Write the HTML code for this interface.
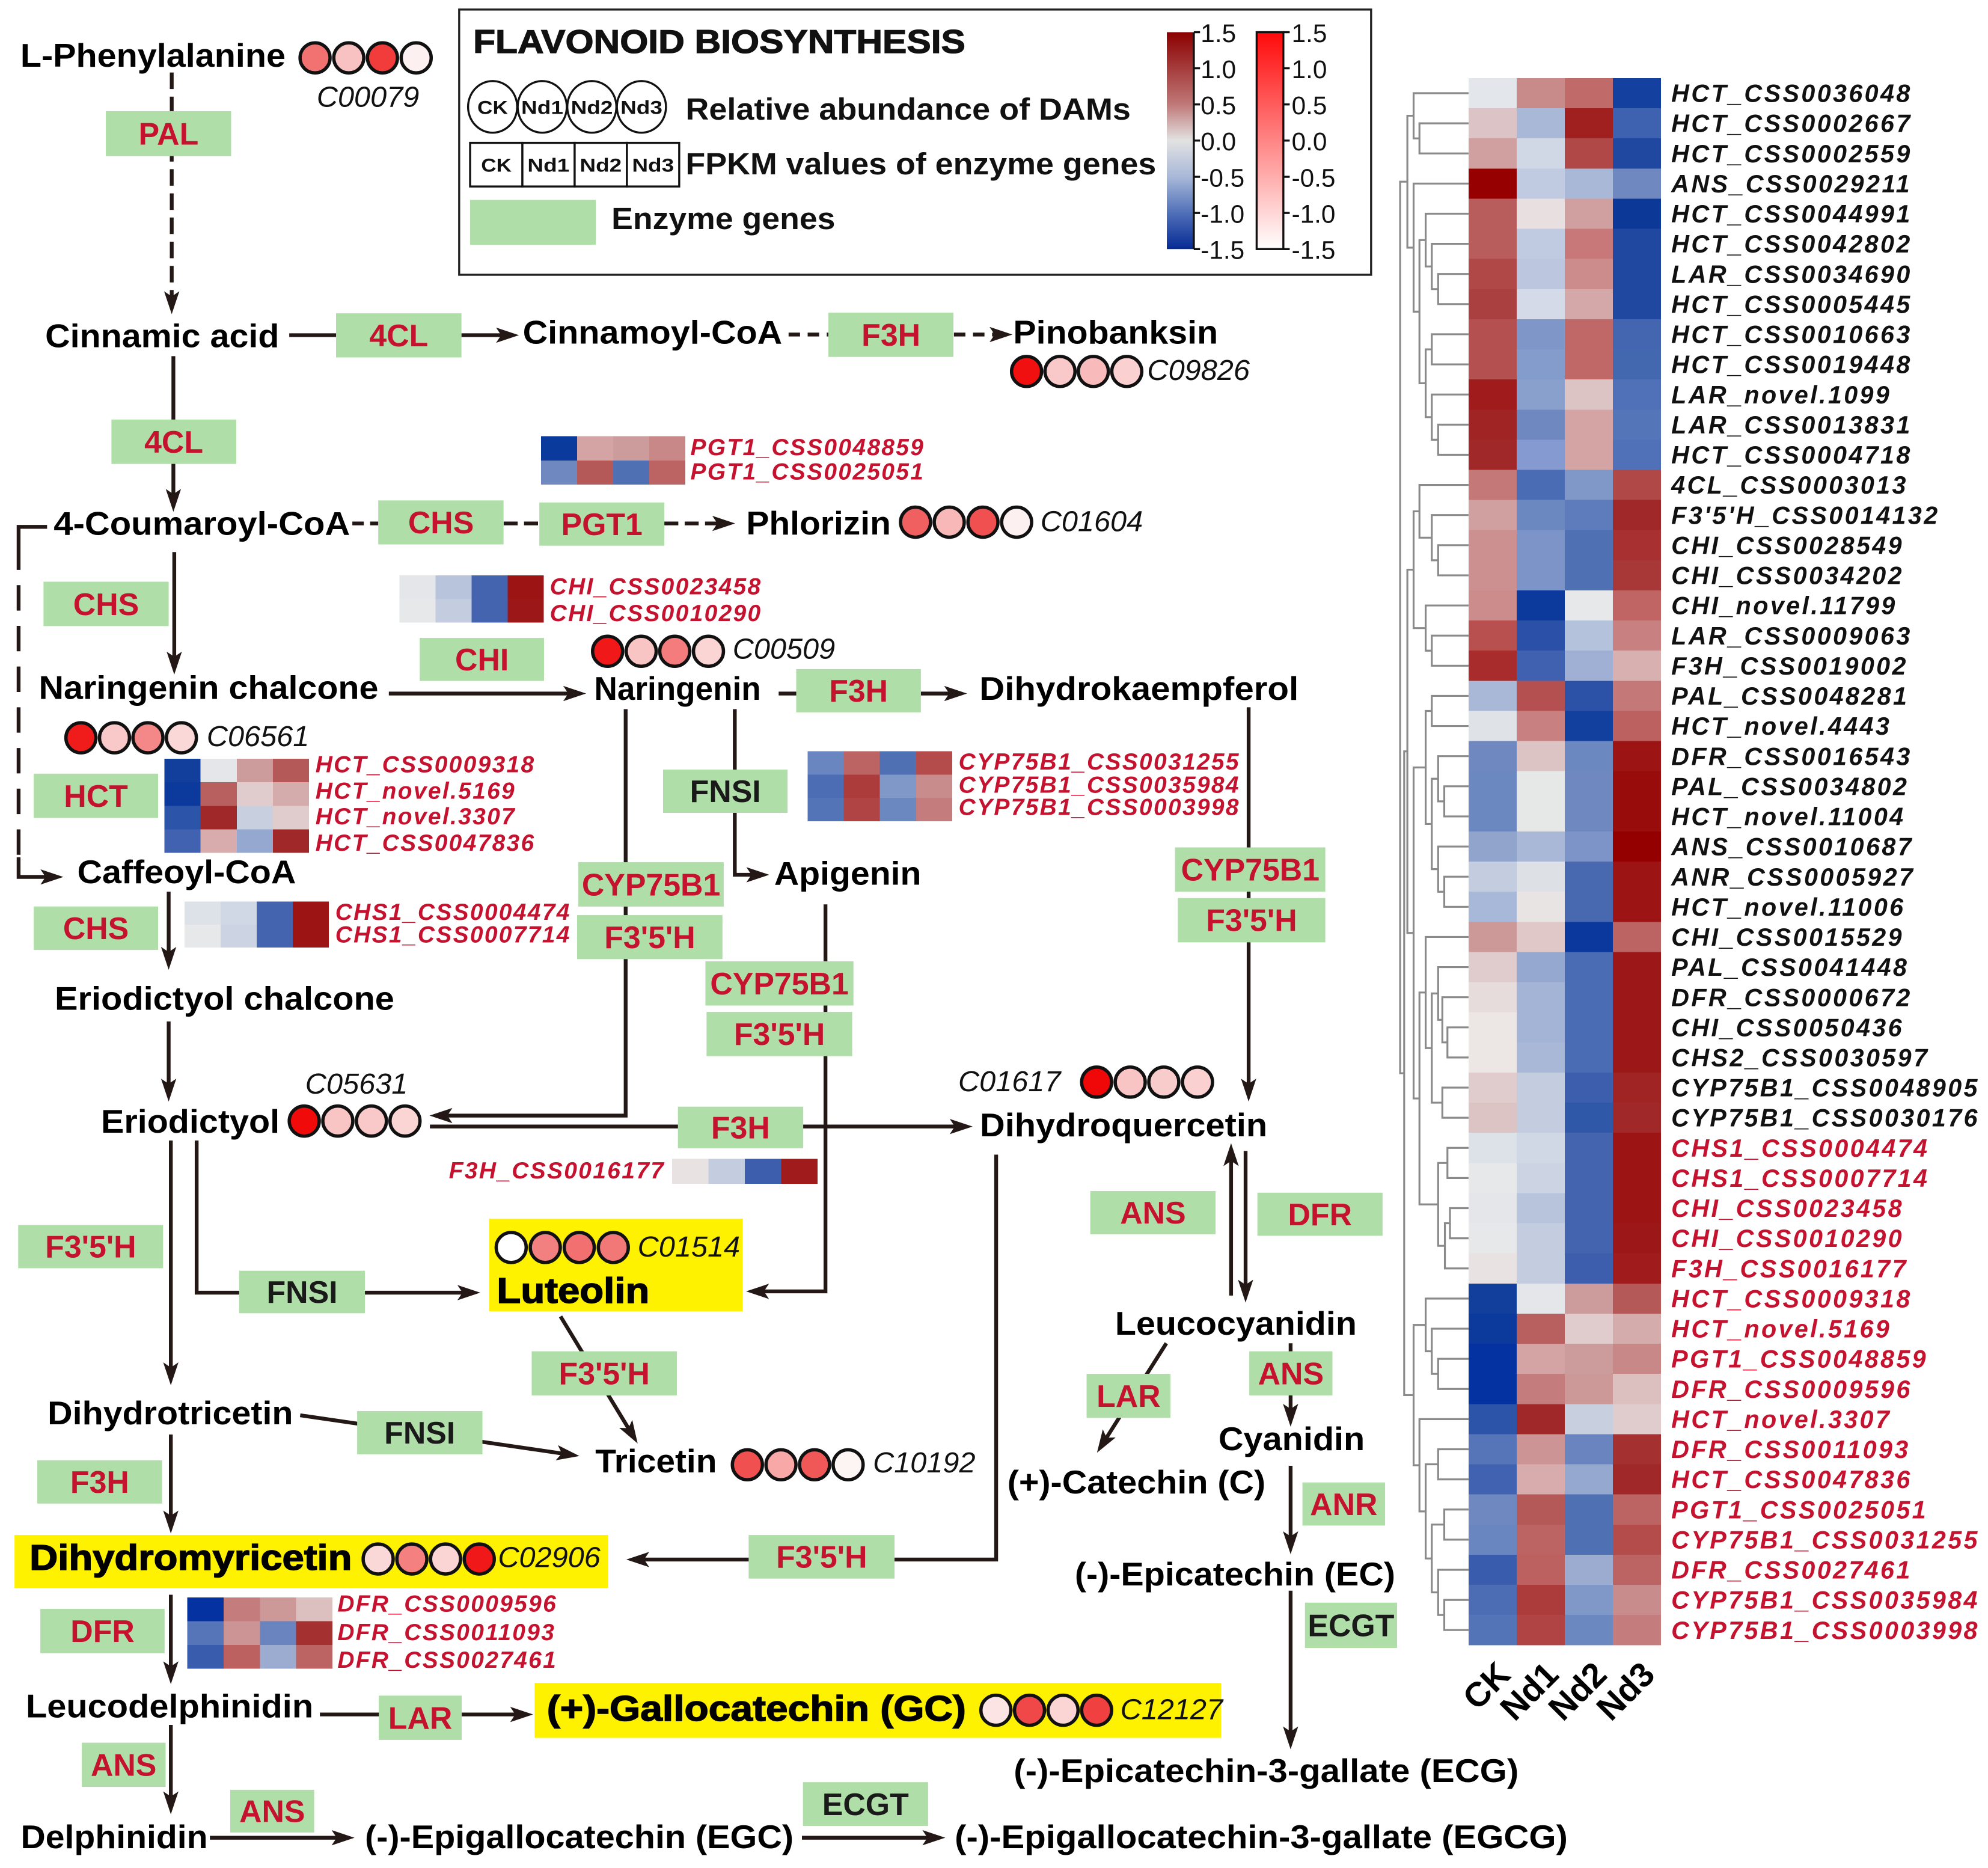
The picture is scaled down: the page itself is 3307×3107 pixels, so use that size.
<!DOCTYPE html>
<html><head><meta charset="utf-8">
<style>
html,body{margin:0;padding:0;background:#fff;}
svg{display:block;}
text{font-family:"Liberation Sans",Arial,sans-serif;}
.c{font-weight:bold;font-size:26px;fill:#000;}
.hl{font-weight:bold;font-size:28px;fill:#000;stroke:#000;stroke-width:0.7px;}
.e{font-weight:bold;font-size:24.5px;fill:#c4122f;text-anchor:middle;}
.ek{fill:#1a1a1a;}
.id{font-style:italic;font-size:23px;fill:#111;}
.g{font-style:italic;font-weight:bold;font-size:18.4px;fill:#c4122f;letter-spacing:1.1px;}
.h{font-style:italic;font-weight:bold;font-size:19.5px;fill:#111;letter-spacing:1.6px;}
.hr{fill:#c4122f;}
.ln{stroke:#231815;stroke-width:3;fill:none;}
.bx{fill:#b0dea8;}
.cb{font-size:20px;fill:#111;}
.lg{font-weight:bold;font-size:24px;fill:#111;}
.sm{font-weight:bold;font-size:15px;fill:#111;text-anchor:middle;}
.cl{font-weight:bold;font-size:27px;fill:#000;text-anchor:end;}
.dn{stroke:#8a8a8a;stroke-width:1.5;fill:none;}
.ci circle{stroke:#111;stroke-width:2.6;}
</style></head>
<body>
<svg xmlns="http://www.w3.org/2000/svg" width="3307" height="3107" viewBox="0 0 1563 1468.5">
<defs>
<marker id="ah" viewBox="0 0 18 12" refX="6" refY="6" markerWidth="18" markerHeight="12" markerUnits="userSpaceOnUse" orient="auto"><path d="M0,0 L18,6 L0,12 L4,6 Z" fill="#231815"/></marker>
<linearGradient id="g1" x1="0" y1="0" x2="0" y2="1">
<stop offset="0" stop-color="#8b0000"/><stop offset="0.333" stop-color="#c07878"/><stop offset="0.5" stop-color="#e2e2e2"/><stop offset="0.667" stop-color="#a8b8d8"/><stop offset="0.833" stop-color="#5070b8"/><stop offset="1" stop-color="#062a94"/>
</linearGradient>
<linearGradient id="g2" x1="0" y1="0" x2="0" y2="1">
<stop offset="0" stop-color="#ff0a0a"/><stop offset="1" stop-color="#ffffff"/>
</linearGradient>
</defs>
<rect x="0" y="0" width="1563" height="1468.5" fill="#fff"/>

<!-- ===== LEGEND ===== -->
<rect x="361" y="7.5" width="717" height="208.5" fill="none" stroke="#222" stroke-width="1.6"/>
<text x="372" y="41.5" class="lg" style="font-size:26px;stroke:#111;stroke-width:0.6px" textLength="387" lengthAdjust="spacingAndGlyphs">FLAVONOID BIOSYNTHESIS</text>
<g fill="#fff" stroke="#111" stroke-width="1.6">
<ellipse cx="387.3" cy="84" rx="19.3" ry="20.3"/><ellipse cx="426.3" cy="84" rx="19.3" ry="20.3"/><ellipse cx="465.3" cy="84" rx="19.3" ry="20.3"/><ellipse cx="504.3" cy="84" rx="19.3" ry="20.3"/>
</g>
<text x="387.3" y="89.5" class="sm" textLength="24" lengthAdjust="spacingAndGlyphs">CK</text>
<text x="426.3" y="89.5" class="sm" textLength="33" lengthAdjust="spacingAndGlyphs">Nd1</text>
<text x="465.3" y="89.5" class="sm" textLength="33" lengthAdjust="spacingAndGlyphs">Nd2</text>
<text x="504.3" y="89.5" class="sm" textLength="33" lengthAdjust="spacingAndGlyphs">Nd3</text>
<text x="539" y="94" class="lg" textLength="350" lengthAdjust="spacingAndGlyphs">Relative abundance of DAMs</text>
<g fill="#fff" stroke="#111" stroke-width="1.6">
<rect x="369.6" y="112.3" width="41.1" height="34.3"/><rect x="410.7" y="112.3" width="41.1" height="34.3"/><rect x="451.8" y="112.3" width="41.1" height="34.3"/><rect x="492.9" y="112.3" width="41.1" height="34.3"/>
</g>
<text x="390.2" y="135" class="sm" textLength="24" lengthAdjust="spacingAndGlyphs">CK</text>
<text x="431.2" y="135" class="sm" textLength="33" lengthAdjust="spacingAndGlyphs">Nd1</text>
<text x="472.3" y="135" class="sm" textLength="33" lengthAdjust="spacingAndGlyphs">Nd2</text>
<text x="513.4" y="135" class="sm" textLength="33" lengthAdjust="spacingAndGlyphs">Nd3</text>
<text x="539" y="137" class="lg" textLength="370" lengthAdjust="spacingAndGlyphs">FPKM values of enzyme genes</text>
<rect x="369.6" y="157.2" width="98.8" height="35.2" class="bx"/>
<text x="480.7" y="180" class="lg" textLength="176" lengthAdjust="spacingAndGlyphs">Enzyme genes</text>

<!-- colorbar 1 -->
<rect x="917.4" y="25.3" width="21.2" height="170.5" fill="url(#g1)"/>
<path d="M938.6 25.3 V195.8 M938.6 25.3 H943.5 M938.6 53.7 H943.5 M938.6 82.1 H943.5 M938.6 110.5 H943.5 M938.6 139 H943.5 M938.6 167.4 H943.5 M938.6 195.8 H943.5" stroke="#111" stroke-width="1.6" fill="none"/>
<g class="cb">
<text x="944" y="33">1.5</text><text x="944" y="61.4">1.0</text><text x="944" y="89.8">0.5</text><text x="944" y="118.2">0.0</text><text x="944" y="146.7">-0.5</text><text x="944" y="175.1">-1.0</text><text x="944" y="203.5">-1.5</text>
</g>
<!-- colorbar 2 -->
<rect x="988" y="25.3" width="21" height="170.5" fill="url(#g2)" stroke="#111" stroke-width="1.6"/>
<path d="M1009 25.3 H1014 M1009 53.7 H1014 M1009 82.1 H1014 M1009 110.5 H1014 M1009 139 H1014 M1009 167.4 H1014 M1009 195.8 H1014" stroke="#111" stroke-width="1.6" fill="none"/>
<g class="cb">
<text x="1015.5" y="33">1.5</text><text x="1015.5" y="61.4">1.0</text><text x="1015.5" y="89.8">0.5</text><text x="1015.5" y="118.2">0.0</text><text x="1015.5" y="146.7">-0.5</text><text x="1015.5" y="175.1">-1.0</text><text x="1015.5" y="203.5">-1.5</text>
</g>

<!-- ===== CONNECTORS ===== -->
<g class="ln">
<path d="M135 57 V235" stroke-dasharray="13 6" marker-end="url(#ah)"/>
<path d="M227.4 263.5 H265"/>
<path d="M362.8 263.5 H396" marker-end="url(#ah)"/>
<path d="M620 263 H651.3" stroke-dasharray="9 6"/>
<path d="M750 263 H784" stroke-dasharray="9 6" marker-end="url(#ah)"/>
<path d="M136.3 280 V390.4" marker-end="url(#ah)"/>
<path d="M277 411.5 H297.4" stroke-dasharray="9 5"/>
<path d="M396 411.5 H424" stroke-dasharray="11 5"/>
<path d="M522.3 411.5 H566" stroke-dasharray="11 5" marker-end="url(#ah)"/>
<path d="M137 434 V518.3" marker-end="url(#ah)"/>
<path d="M37 414.2 H14.6 V428"/>
<path d="M14.6 428 V674" stroke-dasharray="20 12"/>
<path d="M14.6 674 V689.4 H37.8" marker-end="url(#ah)"/>
<path d="M305.7 545.2 H448.8" marker-end="url(#ah)"/>
<path d="M612.2 545.2 H626.5"/>
<path d="M724 545.2 H748.3" marker-end="url(#ah)"/>
<path d="M491.9 557.5 V877 H349.7" marker-end="url(#ah)"/>
<path d="M577.7 557.5 V687.7 H592.8" marker-end="url(#ah)"/>
<path d="M649 711 V1015.2 H598.6" marker-end="url(#ah)"/>
<path d="M981.7 556 V854" marker-end="url(#ah)"/>
<path d="M338 885.6 H752.7" marker-end="url(#ah)"/>
<path d="M132.6 701 V750.4" marker-end="url(#ah)"/>
<path d="M132.6 803 V854" marker-end="url(#ah)"/>
<path d="M134.3 896.6 V1077" marker-end="url(#ah)"/>
<path d="M154.6 896.6 V1016.2 H188.5"/>
<path d="M286.9 1016.2 H365.6" marker-end="url(#ah)"/>
<path d="M440.7 1034.9 L495.1 1124.5" marker-end="url(#ah)"/>
<path d="M236 1112.6 L443.7 1142.9" marker-end="url(#ah)"/>
<path d="M134.3 1127.7 V1193.5" marker-end="url(#ah)"/>
<path d="M783.2 907.7 V1226 H504.4" marker-end="url(#ah)"/>
<path d="M134.3 1253.7 V1312" marker-end="url(#ah)"/>
<path d="M251.5 1347.8 H298"/>
<path d="M363 1347.8 H407.1" marker-end="url(#ah)"/>
<path d="M134.3 1356 V1414.3" marker-end="url(#ah)"/>
<path d="M165 1444.7 H266.7" marker-end="url(#ah)"/>
<path d="M630.5 1444.7 H731.2" marker-end="url(#ah)"/>
<path d="M967.9 1018.5 V910.7" marker-end="url(#ah)"/>
<path d="M979.3 904.8 V1012" marker-end="url(#ah)"/>
<path d="M917 1056 L868.9 1131.9" marker-end="url(#ah)"/>
<path d="M1014.7 1056 V1109.6" marker-end="url(#ah)"/>
<path d="M1014.7 1152.3 V1209.8" marker-end="url(#ah)"/>
<path d="M1014.7 1250.5 V1363.2" marker-end="url(#ah)"/>
</g>

<!-- ===== YELLOW HIGHLIGHTS ===== -->
<rect x="11.4" y="1206.7" width="466.7" height="41.7" fill="#fef200"/>
<rect x="384.5" y="958" width="199.5" height="72.8" fill="#fef200"/>
<rect x="420.3" y="1323" width="539.7" height="43.2" fill="#fef200"/>

<!-- ===== ENZYME BOXES ===== -->
<g class="bx">
<rect x="83.2" y="87.4" width="98.5" height="35.3"/>
<rect x="264.2" y="246.3" width="98.6" height="34.7"/>
<rect x="651.3" y="245.8" width="98.3" height="34.8"/>
<rect x="87.6" y="329.8" width="98.1" height="34.9"/>
<rect x="297.4" y="393.4" width="98.5" height="34.6"/>
<rect x="424" y="395" width="98.3" height="34"/>
<rect x="34.2" y="457.3" width="98.4" height="34.9"/>
<rect x="330" y="501.5" width="97.7" height="33.8"/>
<rect x="26.5" y="608.2" width="97.8" height="34.8"/>
<rect x="26.5" y="712.6" width="97.8" height="34.2"/>
<rect x="626" y="526" width="98" height="34"/>
<rect x="521.3" y="605" width="97.9" height="34"/>
<rect x="454.7" y="677.8" width="114.3" height="34.9"/>
<rect x="453.7" y="719.4" width="114.3" height="34.6"/>
<rect x="554.6" y="755.7" width="116.4" height="34.8"/>
<rect x="555.5" y="795.5" width="114.5" height="34.8"/>
<rect x="923.8" y="666.2" width="118.2" height="34.8"/>
<rect x="926" y="706" width="116" height="34.8"/>
<rect x="533" y="870" width="98.5" height="32.7"/>
<rect x="14.3" y="963" width="113.9" height="34"/>
<rect x="188" y="999" width="98.9" height="33.4"/>
<rect x="418" y="1062.3" width="114.2" height="34.7"/>
<rect x="280.8" y="1109.3" width="98.5" height="34"/>
<rect x="29.3" y="1148" width="98.1" height="34"/>
<rect x="588.6" y="1206.7" width="114.7" height="34.3"/>
<rect x="31.7" y="1264.8" width="97.7" height="34.8"/>
<rect x="297.8" y="1333" width="65.2" height="34.8"/>
<rect x="64.3" y="1370" width="65.9" height="34.7"/>
<rect x="181" y="1407" width="66" height="33.6"/>
<rect x="631.3" y="1401" width="98.4" height="34.4"/>
<rect x="857.2" y="936.3" width="98.5" height="34"/>
<rect x="988.6" y="937.6" width="98.4" height="33.9"/>
<rect x="854.3" y="1080" width="65.9" height="34.6"/>
<rect x="982.2" y="1062.3" width="65.4" height="34.7"/>
<rect x="1024" y="1165.4" width="65" height="33.9"/>
<rect x="1026" y="1259.9" width="72.4" height="35.6"/>
</g>
<g class="e">
<text x="132.5" y="113.6">PAL</text>
<text x="313.5" y="272.2">4CL</text>
<text x="700.5" y="271.8">F3H</text>
<text x="136.6" y="355.9">4CL</text>
<text x="346.7" y="419.3">CHS</text>
<text x="473.2" y="420.6">PGT1</text>
<text x="83.4" y="483.4">CHS</text>
<text x="378.9" y="527">CHI</text>
<text x="75.4" y="634.2">HCT</text>
<text x="75.4" y="738.3">CHS</text>
<text x="675" y="551.6">F3H</text>
<text x="570.3" y="630.6" class="ek">FNSI</text>
<text x="511.9" y="703.9">CYP75B1</text>
<text x="510.9" y="745.3">F3'5'H</text>
<text x="612.8" y="781.7">CYP75B1</text>
<text x="612.8" y="821.5">F3'5'H</text>
<text x="983" y="692.2">CYP75B1</text>
<text x="984" y="732">F3'5'H</text>
<text x="582.2" y="895">F3H</text>
<text x="71.3" y="988.6">F3'5'H</text>
<text x="237.5" y="1024.3" class="ek">FNSI</text>
<text x="475.1" y="1088.3">F3'5'H</text>
<text x="330" y="1134.9" class="ek">FNSI</text>
<text x="78.4" y="1173.6">F3H</text>
<text x="646" y="1232.5">F3'5'H</text>
<text x="80.6" y="1290.8">DFR</text>
<text x="330.4" y="1359">LAR</text>
<text x="97.2" y="1396">ANS</text>
<text x="214" y="1432.4">ANS</text>
<text x="680.5" y="1426.8" class="ek">ECGT</text>
<text x="906.5" y="961.9">ANS</text>
<text x="1037.8" y="963.2">DFR</text>
<text x="887.3" y="1105.9">LAR</text>
<text x="1014.9" y="1088.3">ANS</text>
<text x="1056.5" y="1191">ANR</text>
<text x="1062.2" y="1286.3" class="ek">ECGT</text>
</g>

<!-- ===== COMPOUND NAMES ===== -->
<g class="c">
<text x="16" y="52.5" textLength="208.5" lengthAdjust="spacingAndGlyphs">L-Phenylalanine</text>
<text x="35.5" y="273" textLength="184" lengthAdjust="spacingAndGlyphs">Cinnamic acid</text>
<text x="411" y="270" textLength="204" lengthAdjust="spacingAndGlyphs">Cinnamoyl-CoA</text>
<text x="796.6" y="270" textLength="161" lengthAdjust="spacingAndGlyphs">Pinobanksin</text>
<text x="42.2" y="420.5" textLength="233" lengthAdjust="spacingAndGlyphs">4-Coumaroyl-CoA</text>
<text x="586.7" y="420.2" textLength="113.7" lengthAdjust="spacingAndGlyphs">Phlorizin</text>
<text x="30.5" y="549.5" textLength="267" lengthAdjust="spacingAndGlyphs">Naringenin chalcone</text>
<text x="467.2" y="550.2" textLength="131" lengthAdjust="spacingAndGlyphs">Naringenin</text>
<text x="770" y="550.2" textLength="251" lengthAdjust="spacingAndGlyphs">Dihydrokaempferol</text>
<text x="60.7" y="694.3" textLength="172" lengthAdjust="spacingAndGlyphs">Caffeoyl-CoA</text>
<text x="608.7" y="695.4" textLength="115.6" lengthAdjust="spacingAndGlyphs">Apigenin</text>
<text x="43" y="793.9" textLength="267" lengthAdjust="spacingAndGlyphs">Eriodictyol chalcone</text>
<text x="79.4" y="890.5" textLength="140.4" lengthAdjust="spacingAndGlyphs">Eriodictyol</text>
<text x="770.4" y="893.3" textLength="226" lengthAdjust="spacingAndGlyphs">Dihydroquercetin</text>
<text x="876.7" y="1049.3" textLength="190" lengthAdjust="spacingAndGlyphs">Leucocyanidin</text>
<text x="37.4" y="1119.6" textLength="193" lengthAdjust="spacingAndGlyphs">Dihydrotricetin</text>
<text x="958" y="1140" textLength="115" lengthAdjust="spacingAndGlyphs">Cyanidin</text>
<text x="468" y="1157.6" textLength="95.6" lengthAdjust="spacingAndGlyphs">Tricetin</text>
<text x="792" y="1174" textLength="203" lengthAdjust="spacingAndGlyphs">(+)-Catechin (C)</text>
<text x="845" y="1246.4" textLength="252" lengthAdjust="spacingAndGlyphs">(-)-Epicatechin (EC)</text>
<text x="20.3" y="1350" textLength="226" lengthAdjust="spacingAndGlyphs">Leucodelphinidin</text>
<text x="797" y="1401" textLength="397" lengthAdjust="spacingAndGlyphs">(-)-Epicatechin-3-gallate (ECG)</text>
<text x="16.3" y="1453" textLength="147" lengthAdjust="spacingAndGlyphs">Delphinidin</text>
<text x="286.9" y="1453" textLength="337" lengthAdjust="spacingAndGlyphs">(-)-Epigallocatechin (EGC)</text>
<text x="750.6" y="1453" textLength="482" lengthAdjust="spacingAndGlyphs">(-)-Epigallocatechin-3-gallate (EGCG)</text>
</g>
<g class="hl">
<text x="390.6" y="1024.2" textLength="120" lengthAdjust="spacingAndGlyphs">Luteolin</text>
<text x="23.2" y="1234" textLength="253.5" lengthAdjust="spacingAndGlyphs">Dihydromyricetin</text>
<text x="430" y="1352.7" textLength="329.5" lengthAdjust="spacingAndGlyphs">(+)-Gallocatechin (GC)</text>
</g>

<!-- ===== COMPOUND IDS ===== -->
<g class="id">
<text x="249" y="84">C00079</text>
<text x="902" y="298.6">C09826</text>
<text x="818" y="417.5">C01604</text>
<text x="576" y="517.7">C00509</text>
<text x="162.5" y="586.6">C06561</text>
<text x="240" y="859.7">C05631</text>
<text x="753.4" y="857.8">C01617</text>
<text x="501.3" y="987.8">C01514</text>
<text x="686.3" y="1157.5">C10192</text>
<text x="391.5" y="1232">C02906</text>
<text x="880.8" y="1351.5">C12127</text>
</g>

<!-- ===== METABOLITE CIRCLES ===== -->
<g class="ci">
<circle cx="247.7" cy="45.5" r="11.8" fill="#f27272"/><circle cx="274.2" cy="45.5" r="11.8" fill="#f9c2c2"/><circle cx="300.7" cy="45.5" r="11.8" fill="#f23c3c"/><circle cx="327.2" cy="45.5" r="11.8" fill="#fdf0f0"/>
<circle cx="807.1" cy="292" r="11.8" fill="#f01010"/><circle cx="833.4" cy="292" r="11.8" fill="#f9c8c8"/><circle cx="859.6" cy="292" r="11.8" fill="#f8baba"/><circle cx="885.9" cy="292" r="11.8" fill="#fbd0d0"/>
<circle cx="719.8" cy="410.5" r="11.8" fill="#f06060"/><circle cx="746.3" cy="410.5" r="11.8" fill="#f9b8b8"/><circle cx="772.8" cy="410.5" r="11.8" fill="#f05050"/><circle cx="799.3" cy="410.5" r="11.8" fill="#fdf0f0"/>
<circle cx="477.7" cy="512" r="11.8" fill="#f01818"/><circle cx="504.1" cy="512" r="11.8" fill="#f9c4c4"/><circle cx="530.5" cy="512" r="11.8" fill="#f47c7c"/><circle cx="557" cy="512" r="11.8" fill="#fbd4d4"/>
<circle cx="63.6" cy="580" r="11.8" fill="#f01c1c"/><circle cx="90" cy="580" r="11.8" fill="#f9c8c8"/><circle cx="116.3" cy="580" r="11.8" fill="#f48888"/><circle cx="142.6" cy="580" r="11.8" fill="#fbd8d8"/>
<circle cx="239.2" cy="881.3" r="11.8" fill="#f00a0a"/><circle cx="265.6" cy="881.3" r="11.8" fill="#f9c4c4"/><circle cx="292" cy="881.3" r="11.8" fill="#f9c8c8"/><circle cx="318.4" cy="881.3" r="11.8" fill="#fbd4d4"/>
<circle cx="862.2" cy="850.7" r="11.8" fill="#f00808"/><circle cx="888.6" cy="850.7" r="11.8" fill="#f9c4c4"/><circle cx="915" cy="850.7" r="11.8" fill="#f9cccc"/><circle cx="941.5" cy="850.7" r="11.8" fill="#fbd0d0"/>
<circle cx="401.9" cy="980.7" r="11.8" fill="#ffffff"/><circle cx="428.7" cy="980.7" r="11.8" fill="#f28080"/><circle cx="455.4" cy="980.7" r="11.8" fill="#f27070"/><circle cx="482.2" cy="980.7" r="11.8" fill="#f27878"/>
<circle cx="587.6" cy="1151.5" r="11.8" fill="#f05050"/><circle cx="614" cy="1151.5" r="11.8" fill="#f9a8a8"/><circle cx="640.4" cy="1151.5" r="11.8" fill="#f05858"/><circle cx="666.8" cy="1151.5" r="11.8" fill="#fdf4f4"/>
<circle cx="297.3" cy="1225.6" r="11.8" fill="#fbd8d8"/><circle cx="323.8" cy="1225.6" r="11.8" fill="#f48080"/><circle cx="350.3" cy="1225.6" r="11.8" fill="#fbd4d4"/><circle cx="376.8" cy="1225.6" r="11.8" fill="#f01818"/>
<circle cx="783" cy="1344.5" r="11.8" fill="#fde4e4"/><circle cx="809.4" cy="1344.5" r="11.8" fill="#f04848"/><circle cx="835.8" cy="1344.5" r="11.8" fill="#fbd4d4"/><circle cx="862.2" cy="1344.5" r="11.8" fill="#f04040"/>
</g>

<!-- ===== PATHWAY MINI HEATMAPS ===== -->
<g transform="translate(425.3 343) scale(28.4 19)" shape-rendering="crispEdges">
<rect x="0" y="0" width="1.02" height="1.02" fill="#0a3a9c"/><rect x="1" y="0" width="1.02" height="1.02" fill="#d4a4a4"/><rect x="2" y="0" width="1.02" height="1.02" fill="#cc9c9c"/><rect x="3" y="0" width="1" height="1.02" fill="#c88888"/>
<rect x="0" y="1" width="1.02" height="1" fill="#7088c0"/><rect x="1" y="1" width="1.02" height="1" fill="#b45858"/><rect x="2" y="1" width="1.02" height="1" fill="#5070b4"/><rect x="3" y="1" width="1" height="1" fill="#bc6464"/>
</g>
<g class="g"><text x="542.8" y="357.8">PGT1_CSS0048859</text><text x="542.8" y="377">PGT1_CSS0025051</text></g>

<g transform="translate(314 452.3) scale(28.4 18.6)" shape-rendering="crispEdges">
<rect x="0" y="0" width="1.02" height="1.02" fill="#e4e6ea"/><rect x="1" y="0" width="1.02" height="1.02" fill="#b8c4dc"/><rect x="2" y="0" width="1.02" height="1.02" fill="#4464b0"/><rect x="3" y="0" width="1" height="1.02" fill="#9c1414"/>
<rect x="0" y="1" width="1.02" height="1" fill="#e6e8ea"/><rect x="1" y="1" width="1.02" height="1" fill="#c4cce0"/><rect x="2" y="1" width="1.02" height="1" fill="#4464b0"/><rect x="3" y="1" width="1" height="1" fill="#9c1818"/>
</g>
<g class="g"><text x="432.3" y="467.3">CHI_CSS0023458</text><text x="432.3" y="488.2">CHI_CSS0010290</text></g>

<g transform="translate(129.3 596.5) scale(28.4 18.5)" shape-rendering="crispEdges">
<rect x="0" y="0" width="1.02" height="1.02" fill="#123e9c"/><rect x="1" y="0" width="1.02" height="1.02" fill="#e4e6ea"/><rect x="2" y="0" width="1.02" height="1.02" fill="#cc9c9c"/><rect x="3" y="0" width="1" height="1.02" fill="#b45858"/>
<rect x="0" y="1" width="1.02" height="1.02" fill="#0c3a9c"/><rect x="1" y="1" width="1.02" height="1.02" fill="#b86060"/><rect x="2" y="1" width="1.02" height="1.02" fill="#e0cccc"/><rect x="3" y="1" width="1" height="1.02" fill="#d4acac"/>
<rect x="0" y="2" width="1.02" height="1.02" fill="#2c54a8"/><rect x="1" y="2" width="1.02" height="1.02" fill="#a02828"/><rect x="2" y="2" width="1.02" height="1.02" fill="#c8d0e0"/><rect x="3" y="2" width="1" height="1.02" fill="#e0cccc"/>
<rect x="0" y="3" width="1.02" height="1" fill="#4062b0"/><rect x="1" y="3" width="1.02" height="1" fill="#d8acac"/><rect x="2" y="3" width="1.02" height="1" fill="#94a8d0"/><rect x="3" y="3" width="1" height="1" fill="#a02828"/>
</g>
<g class="g"><text x="248" y="607.2">HCT_CSS0009318</text><text x="248" y="628">HCT_novel.5169</text><text x="248" y="648">HCT_novel.3307</text><text x="248" y="668.8">HCT_CSS0047836</text></g>

<g transform="translate(145 708.7) scale(28.4 18.15)" shape-rendering="crispEdges">
<rect x="0" y="0" width="1.02" height="1.02" fill="#dde2e8"/><rect x="1" y="0" width="1.02" height="1.02" fill="#d0d8e6"/><rect x="2" y="0" width="1.02" height="1.02" fill="#4464b0"/><rect x="3" y="0" width="1" height="1.02" fill="#9c1414"/>
<rect x="0" y="1" width="1.02" height="1" fill="#e6e8ea"/><rect x="1" y="1" width="1.02" height="1" fill="#ccd4e4"/><rect x="2" y="1" width="1.02" height="1" fill="#4464b0"/><rect x="3" y="1" width="1" height="1" fill="#9c1414"/>
</g>
<g class="g"><text x="263.6" y="723.2">CHS1_CSS0004474</text><text x="263.6" y="740.8">CHS1_CSS0007714</text></g>

<g transform="translate(635 590.6) scale(28.4 18.33)" shape-rendering="crispEdges">
<rect x="0" y="0" width="1.02" height="1.02" fill="#6a86c0"/><rect x="1" y="0" width="1.02" height="1.02" fill="#bc6464"/><rect x="2" y="0" width="1.02" height="1.02" fill="#5070b4"/><rect x="3" y="0" width="1" height="1.02" fill="#b44c4c"/>
<rect x="0" y="1" width="1.02" height="1.02" fill="#4c6cb4"/><rect x="1" y="1" width="1.02" height="1.02" fill="#ac3c3c"/><rect x="2" y="1" width="1.02" height="1.02" fill="#8098c8"/><rect x="3" y="1" width="1" height="1.02" fill="#c88c8c"/>
<rect x="0" y="2" width="1.02" height="1" fill="#5474b8"/><rect x="1" y="2" width="1.02" height="1" fill="#b04444"/><rect x="2" y="2" width="1.02" height="1" fill="#6c88c0"/><rect x="3" y="2" width="1" height="1" fill="#c47c7c"/>
</g>
<g class="g"><text x="753.7" y="604.9">CYP75B1_CSS0031255</text><text x="753.7" y="623.1">CYP75B1_CSS0035984</text><text x="753.7" y="640.7">CYP75B1_CSS0003998</text></g>

<g transform="translate(528.4 911) scale(28.6 19.7)" shape-rendering="crispEdges">
<rect x="0" y="0" width="1.02" height="1" fill="#e8e2e2"/><rect x="1" y="0" width="1.02" height="1" fill="#c4cce0"/><rect x="2" y="0" width="1.02" height="1" fill="#3c5eac"/><rect x="3" y="0" width="1" height="1" fill="#a01c1c"/>
</g>
<text x="522.8" y="926.4" class="g" text-anchor="end">F3H_CSS0016177</text>

<g transform="translate(147.3 1255.8) scale(28.5 18.67)" shape-rendering="crispEdges">
<rect x="0" y="0" width="1.02" height="1.02" fill="#0432a0"/><rect x="1" y="0" width="1.02" height="1.02" fill="#c47c7c"/><rect x="2" y="0" width="1.02" height="1.02" fill="#cc9898"/><rect x="3" y="0" width="1" height="1.02" fill="#dcc0c0"/>
<rect x="0" y="1" width="1.02" height="1.02" fill="#5674b8"/><rect x="1" y="1" width="1.02" height="1.02" fill="#cc9494"/><rect x="2" y="1" width="1.02" height="1.02" fill="#6a84c0"/><rect x="3" y="1" width="1" height="1.02" fill="#a43030"/>
<rect x="0" y="2" width="1.02" height="1" fill="#3a5cac"/><rect x="1" y="2" width="1.02" height="1" fill="#bc6060"/><rect x="2" y="2" width="1.02" height="1" fill="#9cacd0"/><rect x="3" y="2" width="1" height="1" fill="#bc6464"/>
</g>
<g class="g"><text x="265.3" y="1266.8">DFR_CSS0009596</text><text x="265.3" y="1289.3">DFR_CSS0011093</text><text x="265.3" y="1311">DFR_CSS0027461</text></g>

<!-- ===== RIGHT HEATMAP ===== -->
<g transform="translate(1154.6 61.4) scale(37.85 23.69)" shape-rendering="crispEdges">
<g id="r1"><rect x="0" y="0" width="1.02" height="1.03" fill="#e3e6ea"/><rect x="1" y="0" width="1.02" height="1.03" fill="#c98a8a"/><rect x="2" y="0" width="1.02" height="1.03" fill="#c06a6a"/><rect x="3" y="0" width="1" height="1.03" fill="#1440a0"/></g>
<rect x="0" y="1" width="1.02" height="1.03" fill="#dcc4c6"/><rect x="1" y="1" width="1.02" height="1.03" fill="#a8b8d6"/><rect x="2" y="1" width="1.02" height="1.03" fill="#a02020"/><rect x="3" y="1" width="1" height="1.03" fill="#3e62b0"/>
<rect x="0" y="2" width="1.02" height="1.03" fill="#d0a0a0"/><rect x="1" y="2" width="1.02" height="1.03" fill="#d0d8e6"/><rect x="2" y="2" width="1.02" height="1.03" fill="#b04848"/><rect x="3" y="2" width="1" height="1.03" fill="#2048a0"/>
<rect x="0" y="3" width="1.02" height="1.03" fill="#960000"/><rect x="1" y="3" width="1.02" height="1.03" fill="#c0cae0"/><rect x="2" y="3" width="1.02" height="1.03" fill="#aab8d8"/><rect x="3" y="3" width="1" height="1.03" fill="#7088c0"/>
<rect x="0" y="4" width="1.02" height="1.03" fill="#b85c5c"/><rect x="1" y="4" width="1.02" height="1.03" fill="#e8e0e0"/><rect x="2" y="4" width="1.02" height="1.03" fill="#d0a0a0"/><rect x="3" y="4" width="1" height="1.03" fill="#0c3898"/>
<rect x="0" y="5" width="1.02" height="1.03" fill="#b85c5c"/><rect x="1" y="5" width="1.02" height="1.03" fill="#c0cae0"/><rect x="2" y="5" width="1.02" height="1.03" fill="#c87878"/><rect x="3" y="5" width="1" height="1.03" fill="#2048a0"/>
<rect x="0" y="6" width="1.02" height="1.03" fill="#b04848"/><rect x="1" y="6" width="1.02" height="1.03" fill="#bcc6de"/><rect x="2" y="6" width="1.02" height="1.03" fill="#cc8c8c"/><rect x="3" y="6" width="1" height="1.03" fill="#2048a0"/>
<rect x="0" y="7" width="1.02" height="1.03" fill="#aa4040"/><rect x="1" y="7" width="1.02" height="1.03" fill="#d4dae8"/><rect x="2" y="7" width="1.02" height="1.03" fill="#d4a8a8"/><rect x="3" y="7" width="1" height="1.03" fill="#2048a0"/>
<rect x="0" y="8" width="1.02" height="1.03" fill="#b45050"/><rect x="1" y="8" width="1.02" height="1.03" fill="#7e96c8"/><rect x="2" y="8" width="1.02" height="1.03" fill="#c06868"/><rect x="3" y="8" width="1" height="1.03" fill="#4466b0"/>
<rect x="0" y="9" width="1.02" height="1.03" fill="#b45050"/><rect x="1" y="9" width="1.02" height="1.03" fill="#849ccc"/><rect x="2" y="9" width="1.02" height="1.03" fill="#c06868"/><rect x="3" y="9" width="1" height="1.03" fill="#4468b0"/>
<rect x="0" y="10" width="1.02" height="1.03" fill="#a01c1c"/><rect x="1" y="10" width="1.02" height="1.03" fill="#8aa0cc"/><rect x="2" y="10" width="1.02" height="1.03" fill="#dcc4c4"/><rect x="3" y="10" width="1" height="1.03" fill="#5070b8"/>
<rect x="0" y="11" width="1.02" height="1.03" fill="#a02424"/><rect x="1" y="11" width="1.02" height="1.03" fill="#7088c0"/><rect x="2" y="11" width="1.02" height="1.03" fill="#d4a4a4"/><rect x="3" y="11" width="1" height="1.03" fill="#5476b8"/>
<rect x="0" y="12" width="1.02" height="1.03" fill="#a02828"/><rect x="1" y="12" width="1.02" height="1.03" fill="#849ad0"/><rect x="2" y="12" width="1.02" height="1.03" fill="#d4a4a4"/><rect x="3" y="12" width="1" height="1.03" fill="#5070b8"/>
<rect x="0" y="13" width="1.02" height="1.03" fill="#c47878"/><rect x="1" y="13" width="1.02" height="1.03" fill="#4a6cb4"/><rect x="2" y="13" width="1.02" height="1.03" fill="#8098c8"/><rect x="3" y="13" width="1" height="1.03" fill="#b04848"/>
<rect x="0" y="14" width="1.02" height="1.03" fill="#d0a0a0"/><rect x="1" y="14" width="1.02" height="1.03" fill="#6c88c0"/><rect x="2" y="14" width="1.02" height="1.03" fill="#5e7cbc"/><rect x="3" y="14" width="1" height="1.03" fill="#a02828"/>
<rect x="0" y="15" width="1.02" height="1.03" fill="#cc9090"/><rect x="1" y="15" width="1.02" height="1.03" fill="#7c94c8"/><rect x="2" y="15" width="1.02" height="1.03" fill="#5070b4"/><rect x="3" y="15" width="1" height="1.03" fill="#a83030"/>
<rect x="0" y="16" width="1.02" height="1.03" fill="#cc9090"/><rect x="1" y="16" width="1.02" height="1.03" fill="#7c94c8"/><rect x="2" y="16" width="1.02" height="1.03" fill="#5070b4"/><rect x="3" y="16" width="1" height="1.03" fill="#a83838"/>
<rect x="0" y="17" width="1.02" height="1.03" fill="#cc8c8c"/><rect x="1" y="17" width="1.02" height="1.03" fill="#0c3a9c"/><rect x="2" y="17" width="1.02" height="1.03" fill="#e6e8ea"/><rect x="3" y="17" width="1" height="1.03" fill="#c06464"/>
<rect x="0" y="18" width="1.02" height="1.03" fill="#b85050"/><rect x="1" y="18" width="1.02" height="1.03" fill="#2a50a8"/><rect x="2" y="18" width="1.02" height="1.03" fill="#b4c2dc"/><rect x="3" y="18" width="1" height="1.03" fill="#c88080"/>
<rect x="0" y="19" width="1.02" height="1.03" fill="#a82c2c"/><rect x="1" y="19" width="1.02" height="1.03" fill="#4060b0"/><rect x="2" y="19" width="1.02" height="1.03" fill="#a0b0d4"/><rect x="3" y="19" width="1" height="1.03" fill="#d8b0b0"/>
<rect x="0" y="20" width="1.02" height="1.03" fill="#a8b8d6"/><rect x="1" y="20" width="1.02" height="1.03" fill="#b45050"/><rect x="2" y="20" width="1.02" height="1.03" fill="#2c52a8"/><rect x="3" y="20" width="1" height="1.03" fill="#c47878"/>
<rect x="0" y="21" width="1.02" height="1.03" fill="#dfe3e8"/><rect x="1" y="21" width="1.02" height="1.03" fill="#c88080"/><rect x="2" y="21" width="1.02" height="1.03" fill="#12409e"/><rect x="3" y="21" width="1" height="1.03" fill="#bc6060"/>
<rect x="0" y="22" width="1.02" height="1.03" fill="#7088c0"/><rect x="1" y="22" width="1.02" height="1.03" fill="#dcc4c4"/><rect x="2" y="22" width="1.02" height="1.03" fill="#6c88c0"/><rect x="3" y="22" width="1" height="1.03" fill="#9c1414"/>
<rect x="0" y="23" width="1.02" height="1.03" fill="#6c88c0"/><rect x="1" y="23" width="1.02" height="1.03" fill="#e6e8e8"/><rect x="2" y="23" width="1.02" height="1.03" fill="#7088c0"/><rect x="3" y="23" width="1" height="1.03" fill="#980c0c"/>
<rect x="0" y="24" width="1.02" height="1.03" fill="#6c88c0"/><rect x="1" y="24" width="1.02" height="1.03" fill="#e6e8e8"/><rect x="2" y="24" width="1.02" height="1.03" fill="#7088c0"/><rect x="3" y="24" width="1" height="1.03" fill="#980c0c"/>
<rect x="0" y="25" width="1.02" height="1.03" fill="#90a4cc"/><rect x="1" y="25" width="1.02" height="1.03" fill="#aab8d8"/><rect x="2" y="25" width="1.02" height="1.03" fill="#7c94c8"/><rect x="3" y="25" width="1" height="1.03" fill="#940000"/>
<rect x="0" y="26" width="1.02" height="1.03" fill="#c4cce0"/><rect x="1" y="26" width="1.02" height="1.03" fill="#dde1e6"/><rect x="2" y="26" width="1.02" height="1.03" fill="#4868b0"/><rect x="3" y="26" width="1" height="1.03" fill="#9c1414"/>
<rect x="0" y="27" width="1.02" height="1.03" fill="#a8b8d8"/><rect x="1" y="27" width="1.02" height="1.03" fill="#e8e4e4"/><rect x="2" y="27" width="1.02" height="1.03" fill="#4868b0"/><rect x="3" y="27" width="1" height="1.03" fill="#9c1414"/>
<rect x="0" y="28" width="1.02" height="1.03" fill="#cc9898"/><rect x="1" y="28" width="1.02" height="1.03" fill="#e0c8c8"/><rect x="2" y="28" width="1.02" height="1.03" fill="#0a389c"/><rect x="3" y="28" width="1" height="1.03" fill="#bc6464"/>
<rect x="0" y="29" width="1.02" height="1.03" fill="#e0cccc"/><rect x="1" y="29" width="1.02" height="1.03" fill="#94a8d0"/><rect x="2" y="29" width="1.02" height="1.03" fill="#4a6cb4"/><rect x="3" y="29" width="1" height="1.03" fill="#9c1818"/>
<rect x="0" y="30" width="1.02" height="1.03" fill="#e6dcdc"/><rect x="1" y="30" width="1.02" height="1.03" fill="#a4b4d6"/><rect x="2" y="30" width="1.02" height="1.03" fill="#4a6cb4"/><rect x="3" y="30" width="1" height="1.03" fill="#9c1818"/>
<rect x="0" y="31" width="1.02" height="1.03" fill="#ece6e4"/><rect x="1" y="31" width="1.02" height="1.03" fill="#a4b4d6"/><rect x="2" y="31" width="1.02" height="1.03" fill="#4a6cb4"/><rect x="3" y="31" width="1" height="1.03" fill="#9c1818"/>
<rect x="0" y="32" width="1.02" height="1.03" fill="#ece6e4"/><rect x="1" y="32" width="1.02" height="1.03" fill="#a8b8d6"/><rect x="2" y="32" width="1.02" height="1.03" fill="#4a6cb4"/><rect x="3" y="32" width="1" height="1.03" fill="#9c1818"/>
<rect x="0" y="33" width="1.02" height="1.03" fill="#e0cccc"/><rect x="1" y="33" width="1.02" height="1.03" fill="#c4cce0"/><rect x="2" y="33" width="1.02" height="1.03" fill="#3c5eac"/><rect x="3" y="33" width="1" height="1.03" fill="#a02424"/>
<rect x="0" y="34" width="1.02" height="1.03" fill="#dcc4c4"/><rect x="1" y="34" width="1.02" height="1.03" fill="#c4cce0"/><rect x="2" y="34" width="1.02" height="1.03" fill="#3058a8"/><rect x="3" y="34" width="1" height="1.03" fill="#a02828"/>
<rect x="0" y="35" width="1.02" height="1.03" fill="#dde2e8"/><rect x="1" y="35" width="1.02" height="1.03" fill="#d0d8e6"/><rect x="2" y="35" width="1.02" height="1.03" fill="#4464b0"/><rect x="3" y="35" width="1" height="1.03" fill="#9c1414"/>
<rect x="0" y="36" width="1.02" height="1.03" fill="#e6e8ea"/><rect x="1" y="36" width="1.02" height="1.03" fill="#ccd4e4"/><rect x="2" y="36" width="1.02" height="1.03" fill="#4464b0"/><rect x="3" y="36" width="1" height="1.03" fill="#9c1414"/>
<rect x="0" y="37" width="1.02" height="1.03" fill="#e4e6ea"/><rect x="1" y="37" width="1.02" height="1.03" fill="#b8c4dc"/><rect x="2" y="37" width="1.02" height="1.03" fill="#4464b0"/><rect x="3" y="37" width="1" height="1.03" fill="#9c1414"/>
<rect x="0" y="38" width="1.02" height="1.03" fill="#e6e8ea"/><rect x="1" y="38" width="1.02" height="1.03" fill="#c4cce0"/><rect x="2" y="38" width="1.02" height="1.03" fill="#4464b0"/><rect x="3" y="38" width="1" height="1.03" fill="#9c1818"/>
<rect x="0" y="39" width="1.02" height="1.03" fill="#e8e2e2"/><rect x="1" y="39" width="1.02" height="1.03" fill="#c4cce0"/><rect x="2" y="39" width="1.02" height="1.03" fill="#3c5eac"/><rect x="3" y="39" width="1" height="1.03" fill="#a01c1c"/>
<rect x="0" y="40" width="1.02" height="1.03" fill="#123e9c"/><rect x="1" y="40" width="1.02" height="1.03" fill="#e4e6ea"/><rect x="2" y="40" width="1.02" height="1.03" fill="#cc9c9c"/><rect x="3" y="40" width="1" height="1.03" fill="#b45858"/>
<rect x="0" y="41" width="1.02" height="1.03" fill="#0c3a9c"/><rect x="1" y="41" width="1.02" height="1.03" fill="#b86060"/><rect x="2" y="41" width="1.02" height="1.03" fill="#e0cccc"/><rect x="3" y="41" width="1" height="1.03" fill="#d4acac"/>
<rect x="0" y="42" width="1.02" height="1.03" fill="#0432a0"/><rect x="1" y="42" width="1.02" height="1.03" fill="#d4a4a4"/><rect x="2" y="42" width="1.02" height="1.03" fill="#cc9c9c"/><rect x="3" y="42" width="1" height="1.03" fill="#c88888"/>
<rect x="0" y="43" width="1.02" height="1.03" fill="#0432a0"/><rect x="1" y="43" width="1.02" height="1.03" fill="#c47c7c"/><rect x="2" y="43" width="1.02" height="1.03" fill="#cc9898"/><rect x="3" y="43" width="1" height="1.03" fill="#dcc0c0"/>
<rect x="0" y="44" width="1.02" height="1.03" fill="#2c54a8"/><rect x="1" y="44" width="1.02" height="1.03" fill="#a02828"/><rect x="2" y="44" width="1.02" height="1.03" fill="#c8d0e0"/><rect x="3" y="44" width="1" height="1.03" fill="#e0cccc"/>
<rect x="0" y="45" width="1.02" height="1.03" fill="#5674b8"/><rect x="1" y="45" width="1.02" height="1.03" fill="#cc9494"/><rect x="2" y="45" width="1.02" height="1.03" fill="#6a84c0"/><rect x="3" y="45" width="1" height="1.03" fill="#a43030"/>
<rect x="0" y="46" width="1.02" height="1.03" fill="#4062b0"/><rect x="1" y="46" width="1.02" height="1.03" fill="#d8acac"/><rect x="2" y="46" width="1.02" height="1.03" fill="#94a8d0"/><rect x="3" y="46" width="1" height="1.03" fill="#a02828"/>
<rect x="0" y="47" width="1.02" height="1.03" fill="#7088c0"/><rect x="1" y="47" width="1.02" height="1.03" fill="#b45858"/><rect x="2" y="47" width="1.02" height="1.03" fill="#5070b4"/><rect x="3" y="47" width="1" height="1.03" fill="#bc6464"/>
<rect x="0" y="48" width="1.02" height="1.03" fill="#6a86c0"/><rect x="1" y="48" width="1.02" height="1.03" fill="#bc6464"/><rect x="2" y="48" width="1.02" height="1.03" fill="#5070b4"/><rect x="3" y="48" width="1" height="1.03" fill="#b44c4c"/>
<rect x="0" y="49" width="1.02" height="1.03" fill="#3a5cac"/><rect x="1" y="49" width="1.02" height="1.03" fill="#bc6060"/><rect x="2" y="49" width="1.02" height="1.03" fill="#9cacd0"/><rect x="3" y="49" width="1" height="1.03" fill="#bc6464"/>
<rect x="0" y="50" width="1.02" height="1.03" fill="#4c6cb4"/><rect x="1" y="50" width="1.02" height="1.03" fill="#ac3c3c"/><rect x="2" y="50" width="1.02" height="1.03" fill="#8098c8"/><rect x="3" y="50" width="1" height="1.03" fill="#c88c8c"/>
<rect x="0" y="51" width="1.02" height="1" fill="#5474b8"/><rect x="1" y="51" width="1.02" height="1" fill="#b04444"/><rect x="2" y="51" width="1.02" height="1" fill="#6c88c0"/><rect x="3" y="51" width="1" height="1" fill="#c47c7c"/>
</g>

<!-- right heatmap labels -->
<text x="1314" y="80.15" class="h">
<tspan x="1314" dy="0">HCT_CSS0036048</tspan>
<tspan x="1314" dy="23.69">HCT_CSS0002667</tspan>
<tspan x="1314" dy="23.69">HCT_CSS0002559</tspan>
<tspan x="1314" dy="23.69">ANS_CSS0029211</tspan>
<tspan x="1314" dy="23.69">HCT_CSS0044991</tspan>
<tspan x="1314" dy="23.69">HCT_CSS0042802</tspan>
<tspan x="1314" dy="23.69">LAR_CSS0034690</tspan>
<tspan x="1314" dy="23.69">HCT_CSS0005445</tspan>
<tspan x="1314" dy="23.69">HCT_CSS0010663</tspan>
<tspan x="1314" dy="23.69">HCT_CSS0019448</tspan>
<tspan x="1314" dy="23.69">LAR_novel.1099</tspan>
<tspan x="1314" dy="23.69">LAR_CSS0013831</tspan>
<tspan x="1314" dy="23.69">HCT_CSS0004718</tspan>
<tspan x="1314" dy="23.69">4CL_CSS0003013</tspan>
<tspan x="1314" dy="23.69">F3'5'H_CSS0014132</tspan>
<tspan x="1314" dy="23.69">CHI_CSS0028549</tspan>
<tspan x="1314" dy="23.69">CHI_CSS0034202</tspan>
<tspan x="1314" dy="23.69">CHI_novel.11799</tspan>
<tspan x="1314" dy="23.69">LAR_CSS0009063</tspan>
<tspan x="1314" dy="23.69">F3H_CSS0019002</tspan>
<tspan x="1314" dy="23.69">PAL_CSS0048281</tspan>
<tspan x="1314" dy="23.69">HCT_novel.4443</tspan>
<tspan x="1314" dy="23.69">DFR_CSS0016543</tspan>
<tspan x="1314" dy="23.69">PAL_CSS0034802</tspan>
<tspan x="1314" dy="23.69">HCT_novel.11004</tspan>
<tspan x="1314" dy="23.69">ANS_CSS0010687</tspan>
<tspan x="1314" dy="23.69">ANR_CSS0005927</tspan>
<tspan x="1314" dy="23.69">HCT_novel.11006</tspan>
<tspan x="1314" dy="23.69">CHI_CSS0015529</tspan>
<tspan x="1314" dy="23.69">PAL_CSS0041448</tspan>
<tspan x="1314" dy="23.69">DFR_CSS0000672</tspan>
<tspan x="1314" dy="23.69">CHI_CSS0050436</tspan>
<tspan x="1314" dy="23.69">CHS2_CSS0030597</tspan>
<tspan x="1314" dy="23.69">CYP75B1_CSS0048905</tspan>
<tspan x="1314" dy="23.69">CYP75B1_CSS0030176</tspan>
</text>
<text x="1314" y="909.3" class="h hr">
<tspan x="1314" dy="0">CHS1_CSS0004474</tspan>
<tspan x="1314" dy="23.69">CHS1_CSS0007714</tspan>
<tspan x="1314" dy="23.69">CHI_CSS0023458</tspan>
<tspan x="1314" dy="23.69">CHI_CSS0010290</tspan>
<tspan x="1314" dy="23.69">F3H_CSS0016177</tspan>
<tspan x="1314" dy="23.69">HCT_CSS0009318</tspan>
<tspan x="1314" dy="23.69">HCT_novel.5169</tspan>
<tspan x="1314" dy="23.69">PGT1_CSS0048859</tspan>
<tspan x="1314" dy="23.69">DFR_CSS0009596</tspan>
<tspan x="1314" dy="23.69">HCT_novel.3307</tspan>
<tspan x="1314" dy="23.69">DFR_CSS0011093</tspan>
<tspan x="1314" dy="23.69">HCT_CSS0047836</tspan>
<tspan x="1314" dy="23.69">PGT1_CSS0025051</tspan>
<tspan x="1314" dy="23.69">CYP75B1_CSS0031255</tspan>
<tspan x="1314" dy="23.69">DFR_CSS0027461</tspan>
<tspan x="1314" dy="23.69">CYP75B1_CSS0035984</tspan>
<tspan x="1314" dy="23.69">CYP75B1_CSS0003998</tspan>
</text>

<!-- dendrogram -->
<g class="dn">
<path d="M1154.6 96.94 H1116 V120.63 H1154.6"/>
<path d="M1154.6 73.25 H1111.4 V108.79 H1116"/>
<path d="M1154.6 215.39 H1130.7 V239.08 H1154.6"/>
<path d="M1154.6 191.7 H1125.7 V227.24 H1130.7"/>
<path d="M1154.6 168.01 H1120.9 V209.47 H1125.7"/>
<path d="M1154.6 262.77 H1125.7 V286.46 H1154.6"/>
<path d="M1154.6 333.84 H1130.7 V357.53 H1154.6"/>
<path d="M1154.6 310.15 H1125.7 V345.69 H1130.7"/>
<path d="M1125.7 274.62 H1120.9 V327.92 H1125.7"/>
<path d="M1120.9 188.74 H1116 V301.27 H1120.9"/>
<path d="M1154.6 144.32 H1111.4 V245 H1116"/>
<path d="M1111.4 91.02 H1106.5 V194.66 H1111.4"/>
<path d="M1154.6 428.6 H1130.7 V452.29 H1154.6"/>
<path d="M1154.6 404.91 H1125.7 V440.45 H1130.7"/>
<path d="M1154.6 381.22 H1116 V422.68 H1125.7"/>
<path d="M1154.6 499.67 H1125.7 V523.36 H1154.6"/>
<path d="M1154.6 475.98 H1120.9 V511.52 H1125.7"/>
<path d="M1116 401.95 H1111.4 V493.75 H1120.9"/>
<path d="M1154.6 547.05 H1125.7 V570.74 H1154.6"/>
<path d="M1154.6 618.12 H1135.5 V641.81 H1154.6"/>
<path d="M1154.6 594.43 H1130.7 V629.97 H1135.5"/>
<path d="M1154.6 689.19 H1135.5 V712.88 H1154.6"/>
<path d="M1154.6 665.5 H1130.7 V701.04 H1135.5"/>
<path d="M1130.7 612.2 H1125.7 V683.27 H1130.7"/>
<path d="M1125.7 558.9 H1120.9 V647.74 H1125.7"/>
<path d="M1154.6 807.64 H1138 V831.33 H1154.6"/>
<path d="M1154.6 783.95 H1134 V819.49 H1138"/>
<path d="M1154.6 760.26 H1130.7 V801.72 H1134"/>
<path d="M1154.6 855.02 H1134 V878.71 H1154.6"/>
<path d="M1130.7 780.99 H1125.7 V866.87 H1134"/>
<path d="M1154.6 736.57 H1120.9 V823.93 H1125.7"/>
<path d="M1154.6 902.4 H1138 V926.09 H1154.6"/>
<path d="M1154.6 949.78 H1140 V973.47 H1154.6"/>
<path d="M1140 961.63 H1136 V997.16 H1154.6"/>
<path d="M1138 914.25 H1130.7 V979.4 H1136"/>
<path d="M1120.9 780.25 H1116 V946.83 H1130.7"/>
<path d="M1120.9 603.32 H1111.4 V863.54 H1116"/>
<path d="M1111.4 447.85 H1106.5 V733.43 H1111.4"/>
<path d="M1154.6 1068.23 H1130.7 V1091.92 H1154.6"/>
<path d="M1154.6 1044.54 H1125.7 V1080.08 H1130.7"/>
<path d="M1154.6 1020.85 H1120.9 V1062.31 H1125.7"/>
<path d="M1154.6 1139.3 H1130.7 V1162.99 H1154.6"/>
<path d="M1154.6 1186.68 H1135.5 V1210.37 H1154.6"/>
<path d="M1154.6 1257.75 H1135.5 V1281.44 H1154.6"/>
<path d="M1154.6 1234.06 H1130.7 V1269.6 H1135.5"/>
<path d="M1135.5 1198.53 H1125.7 V1251.83 H1130.7"/>
<path d="M1130.7 1151.15 H1120.9 V1225.18 H1125.7"/>
<path d="M1154.6 1115.61 H1116 V1188.17 H1120.9"/>
<path d="M1120.9 1041.58 H1111.4 V1151.89 H1116"/>
<path d="M1106.5 590.64 H1104 V1096.74 H1111.4"/>
<path d="M1106.5 142.84 H1100.8 V843.69 H1104"/>
</g>

<!-- column labels -->
<text x="1189" y="1318" class="cl" transform="rotate(-45 1189 1318)">CK</text>
<text x="1226.9" y="1318" class="cl" transform="rotate(-45 1226.9 1318)">Nd1</text>
<text x="1264.8" y="1318" class="cl" transform="rotate(-45 1264.8 1318)">Nd2</text>
<text x="1302.6" y="1318" class="cl" transform="rotate(-45 1302.6 1318)">Nd3</text>
</svg>
</body></html>
